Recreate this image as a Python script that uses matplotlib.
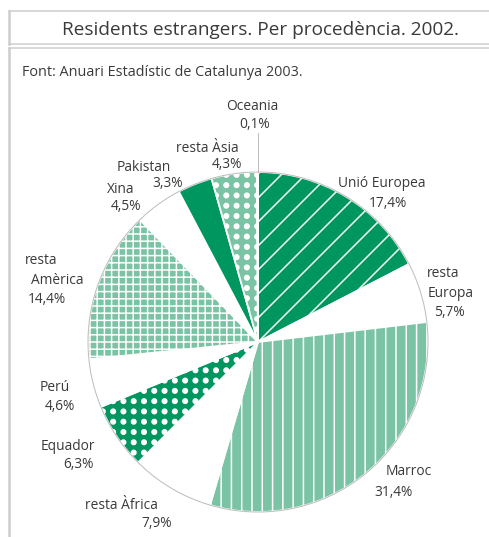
import numpy as np
import matplotlib
matplotlib.use("Agg")
import matplotlib.pyplot as plt
import matplotlib.hatch as mhatch
from matplotlib.path import Path
from matplotlib.lines import Line2D
from matplotlib.patches import Circle

# ---------------- data ----------------
categories = ["Unió Europea", "resta\nEuropa", "Marroc", "resta Àfrica", "Equador",
              "Perú", "resta\nAmèrica", "Xina", "Pakistan", "resta Àsia", "Oceania"]
values = [17.4, 5.7, 31.4, 7.9, 6.3, 4.6, 14.4, 4.5, 3.3, 4.3, 0.1]
title = "Residents estrangers. Per procedència. 2002."
source = "Font: Anuari Estadístic de Catalunya 2003."

# ---------------- styles ----------------
DARK = "#00965f"
LIGHT = "#7bc3a5"
WHITE = "#ffffff"
fills = [DARK, WHITE, LIGHT, WHITE, DARK, WHITE, LIGHT, WHITE, DARK, LIGHT, WHITE]
# '*' -> square grid of dots, 'O' -> square grid of lines (custom patterns below)
hatches = ["/", None, "|", None, "*", None, "O", None, None, "*", None]
TEXT = "#3a3a3a"
FRAME = "#cdcdcd"


class SquareDots(mhatch.HatchPatternBase):
    def __init__(self, hatch, density):
        self.n = hatch.count('*') * 7
        self.circle = Path.unit_circle()
        self.num_vertices = (self.n + 1) ** 2 * len(self.circle.vertices) if self.n else 0

    def set_vertices_and_codes(self, vertices, codes):
        off = 1.0 / self.n
        sv = self.circle.vertices * 0.22 * off
        vp, cp = [], []
        for r in range(self.n + 1):
            for c in range(self.n + 1):
                vp.append(sv + [c * off, r * off])
                cp.append(self.circle.codes)
        np.concatenate(vp, out=vertices)
        np.concatenate(cp, out=codes)


class SquareGrid(mhatch.HatchPatternBase):
    def __init__(self, hatch, density):
        self.n = hatch.count('O') * 10
        self.num_vertices = self.n * 4

    def set_vertices_and_codes(self, vertices, codes):
        steps, st = np.linspace(0.0, 1.0, self.n, False, retstep=True)
        steps = steps + st / 2.0
        k = 2 * self.n
        h, v = vertices[:k], vertices[k:]
        h[0::2, 0] = 0.0
        h[0::2, 1] = steps
        h[1::2, 0] = 1.0
        h[1::2, 1] = steps
        v[0::2, 0] = steps
        v[0::2, 1] = 0.0
        v[1::2, 0] = steps
        v[1::2, 1] = 1.0
        codes[0::2] = Path.MOVETO
        codes[1::2] = Path.LINETO


mhatch._hatch_types = [t for t in mhatch._hatch_types
                       if t not in (mhatch.Stars, mhatch.LargeCircles)] + [SquareDots, SquareGrid]

# slightly denser vertical line hatch (7 lines per inch)
_orig_get_path = mhatch.get_path


def _get_path(hatchpattern, density=6):
    return _orig_get_path(hatchpattern, 7 if hatchpattern == "|" else 6)


mhatch.get_path = _get_path

plt.rcParams['hatch.linewidth'] = 1.5
plt.rcParams['font.family'] = ['Open Sans', 'DejaVu Sans']

W, H, DPI = 489, 537, 72
fig = plt.figure(figsize=(W / DPI, H / DPI), dpi=DPI)
fig.patch.set_facecolor("white")

CX, CY, R = 258, 342, 170  # pie centre/radius in px (layout)
ax = fig.add_axes([0, 0, 1, 1])

wedges, _ = ax.pie(values, colors=fills, startangle=90, counterclock=False,
                   radius=1.0, center=(0, 0),
                   wedgeprops=dict(edgecolor="white", linewidth=1.8))
for w, h in zip(wedges, hatches):
    if h:
        w.set_hatch(h)
ax.add_patch(Circle((0, 0), 1.0, fill=False, edgecolor="#bdbdbd", linewidth=1.0, zorder=5))

ax.set_xlim((0 - CX) / R, (W - CX) / R)
ax.set_ylim((CY - H) / R, (CY - 0) / R)
ax.set_aspect('auto')
ax.axis('off')


def d(px, py):
    return (px - CX) / R, (CY - py) / R


# leader line for Oceania
x0, y0 = d(258, 133)
ax.plot([x0, x0], [y0, 1.0], color="#bdbdbd", lw=1.0, zorder=6)

# label line positions (px centres), per category: name lines + percentage
label_pos = [
    [(382, 182), (388, 202)],
    [(443, 272), (451, 292), (449, 311)],
    [(409, 470), (393, 491)],
    [(121, 504), (157, 522)],
    [(68, 445), (78, 463)],
    [(55, 386), (60, 405)],
    [(41, 259), (57, 279), (47, 298)],
    [(121, 188), (126, 205)],
    [(144, 166), (168, 182)],
    [(207, 147), (227, 163)],
    [(252, 105), (255, 123)],
]
FS = 13.8
for name, v, pos in zip(categories, values, label_pos):
    lines = name.split("\n") + [f"{v:.1f}%".replace(".", ",")]
    for txt, (px, py) in zip(lines, pos):
        x, y = d(px, py + 5)
        ax.text(x, y, txt, ha="center", va="baseline", fontsize=FS, color=TEXT)


# frame / header
def fl(xs, ys, lw=2.0):
    fig.add_artist(Line2D([x / W for x in xs], [1 - y / H for y in ys],
                          transform=fig.transFigure, color=FRAME, lw=lw))


fl([8.5, W], [11, 11], 1.5)
fl([8.5, W], [43.5, 43.5], 1.5)
fl([8.5, W], [47.5, 47.5], 1.5)
fl([8.5, 8.5], [11, 43.5], 2.5)
fl([8.5, 8.5], [47.5, H], 2.5)

fig.text(260 / W, 1 - 35 / H, title, ha="center", va="baseline", fontsize=19, color=TEXT)
fig.text(22 / W, 1 - 76 / H, source, ha="left", va="baseline", fontsize=14.4, color=TEXT)

fig.savefig("out.png", dpi=DPI, facecolor="white")
